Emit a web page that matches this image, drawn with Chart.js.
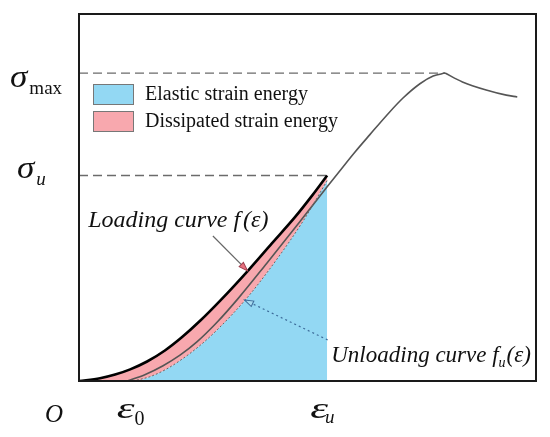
<!DOCTYPE html>
<html><head><meta charset="utf-8">
<script src="https://cdn.jsdelivr.net/npm/chart.js@4.4.0/dist/chart.umd.min.js"></script>
<style>html,body{margin:0;padding:0;background:#fff;} #wrap{width:550px;height:437px;}</style>
</head><body><div id="wrap"><canvas id="c" width="550" height="437"></canvas></div>
<script>
// Loading curve f(eps) (black), from O to (eps_u, sigma_u)
const strainLoad = [0, 4.6, 7.9, 11.2, 14.9, 18.8, 22.5, 26.5, 30.9, 37.0, 42.2, 47.3, 51.0, 54.3];
const stressLoad = [0, 0.74, 1.74, 3.16, 5.31, 8.31, 11.9, 16.4, 21.9, 30.1, 37.5, 44.7, 50.5, 56.0];
// Unloading curve f_u(eps) (dashed), from eps_0 to eps_u
const strainUnload = [11.8, 15.5, 18.8, 22.1, 26.5, 30.2, 36.8, 42.9, 49.0, 54.3];
const stressUnload = [0, 1.17, 3.02, 5.56, 9.7, 13.9, 22.7, 32.5, 43.5, 54.6];
// Complete stress-strain curve (gray): pre-peak and post-peak
const strainPre = [10.5, 14.4, 18.4, 22.1, 25.8, 30.2, 34.8, 41.1, 48.4, 54.3, 57.8, 60.4, 63.7, 67.4, 70.9, 74.6, 77.5, 80.1];
const stressPre = [0, 1.72, 4.17, 7.03, 10.65, 16.0, 22.45, 32.1, 43.5, 52.9, 58.4, 62.4, 67.2, 72.5, 77.1, 81.0, 83.1, 83.9];
const strainPost = [80.1, 83.9, 89.1, 93.5, 95.9];
const stressPost = [83.9, 81.5, 79.3, 77.9, 77.4];
// Characteristic values
const origin = [0, 0];
const eps0 = 10.9;
const epsU = 54.3;
const sigmaU = 56.0;
const sigmaMax = 83.9;
const epsPeak = 80.1;
// Annotation arrows [from, to] in data units
const loadArrow = [[29.3, 39.5], [36.9, 30.0]];
const unloadArrow = [[54.4, 11.2], [36.2, 22.1]];
const loadLabelPos = [2.0, 42.0];
const unloadLabelPos = [55.2, 5.2];
const legendLabels = ['Elastic strain energy', 'Dissipated strain energy'];

const BLUE = '#93d8f3';
const PINK = '#f8a8ae';
const pts = (xs, ys) => xs.map((x, i) => ({x: x, y: ys[i]}));

const serif = '"Liberation Serif", "Times New Roman", serif';

function drawParts(ctx, x, y, parts) {
  let cx = x;
  parts.forEach(p => {
    ctx.font = p.font;
    const sx = p.sx || 1;
    ctx.save();
    ctx.translate(cx, y + (p.dy || 0));
    ctx.scale(sx, 1);
    ctx.fillText(p.t, 0, 0);
    ctx.restore();
    cx += ctx.measureText(p.t).width * sx + (p.gap || 0);
  });
}
function arrowHead(ctx, x0, y0, x1, y1, len, wid, fill, stroke) {
  const a = Math.atan2(y1 - y0, x1 - x0);
  ctx.save();
  ctx.translate(x1, y1); ctx.rotate(a);
  ctx.beginPath();
  ctx.moveTo(0, 0); ctx.lineTo(-len, -wid / 2); ctx.lineTo(-len, wid / 2); ctx.closePath();
  ctx.setLineDash([]);
  ctx.fillStyle = fill; ctx.fill();
  ctx.lineWidth = 1; ctx.strokeStyle = stroke; ctx.stroke();
  ctx.restore();
}

const decor = {
  id: 'decor',
  afterDatasetsDraw(chart) {
    const ctx = chart.ctx, xs = chart.scales.x, ys = chart.scales.y, a = chart.chartArea;
    const X = v => xs.getPixelForValue(v), Y = v => ys.getPixelForValue(v);
    ctx.save();
    // frame
    ctx.strokeStyle = '#1a1a1a'; ctx.lineWidth = 2; ctx.setLineDash([]);
    ctx.strokeRect(a.left, a.top, a.right - a.left, a.bottom - a.top);
    ctx.fillStyle = '#111'; ctx.textBaseline = 'alphabetic'; ctx.textAlign = 'left';
    // y labels
    drawParts(ctx, 10, Y(sigmaMax) + 14, [{t: 'σ', font: 'italic 32px ' + serif, gap: 2, sx: 1.1}, {t: 'max', font: '19px ' + serif, dy: 7}]);
    drawParts(ctx, 17, Y(sigmaU) + 3, [{t: 'σ', font: 'italic 32px ' + serif, gap: 2, sx: 1.1}, {t: 'u', font: 'italic 19px ' + serif, dy: 7}]);
    // x labels
    ctx.font = 'italic 25px ' + serif;
    ctx.fillText('O', X(0) - 34, 422);
    drawParts(ctx, X(eps0) - 12, 418, [{t: 'ε', font: 'italic 30px ' + serif, gap: 0, sx: 1.5}, {t: '0', font: '20px ' + serif, dy: 7}]);
    drawParts(ctx, X(epsU) - 17, 418, [{t: 'ε', font: 'italic 30px ' + serif, gap: -3, sx: 1.5}, {t: 'u', font: 'italic 19px ' + serif, dy: 5}]);
    // curve labels
    drawParts(ctx, X(loadLabelPos[0]), Y(loadLabelPos[1]), [{t: 'Loading curve ', font: 'italic 24px ' + serif}, {t: 'f', font: 'italic 24px ' + serif, gap: 3}, {t: '(ε)', font: 'italic 24px ' + serif}]);
    drawParts(ctx, X(unloadLabelPos[0]), Y(unloadLabelPos[1]), [{t: 'Unloading curve ', font: 'italic 23px ' + serif}, {t: 'f', font: 'italic 23px ' + serif}, {t: 'u', font: 'italic 14px ' + serif, dy: 5, gap: 1}, {t: '(ε)', font: 'italic 23px ' + serif}]);
    // arrows
    let p0 = [X(loadArrow[0][0]), Y(loadArrow[0][1])], p1 = [X(loadArrow[1][0]), Y(loadArrow[1][1])];
    ctx.strokeStyle = '#666'; ctx.lineWidth = 1.2; ctx.setLineDash([]);
    ctx.beginPath(); ctx.moveTo(p0[0], p0[1]); ctx.lineTo(p1[0], p1[1]); ctx.stroke();
    arrowHead(ctx, p0[0], p0[1], p1[0], p1[1], 9, 6, '#e8707e', '#a04050');
    p0 = [X(unloadArrow[0][0]), Y(unloadArrow[0][1])]; p1 = [X(unloadArrow[1][0]), Y(unloadArrow[1][1])];
    ctx.strokeStyle = '#3d6c9a'; ctx.lineWidth = 1.2; ctx.setLineDash([2, 3]);
    ctx.beginPath(); ctx.moveTo(p0[0], p0[1]); ctx.lineTo(p1[0], p1[1]); ctx.stroke();
    arrowHead(ctx, p0[0], p0[1], p1[0], p1[1], 9, 6, '#a8dcf0', '#3d6c9a');
    // legend
    const cols = [BLUE, PINK];
    legendLabels.forEach((lab, i) => {
      const top = 84 + i * 27;
      ctx.setLineDash([]);
      ctx.fillStyle = cols[i]; ctx.fillRect(93, top, 40, 20);
      ctx.strokeStyle = '#777'; ctx.lineWidth = 1; ctx.strokeRect(93.5, top + 0.5, 40, 20);
      ctx.fillStyle = '#111'; ctx.font = '20px ' + serif; ctx.textBaseline = 'middle';
      ctx.fillText(lab, 145, top + 11);
      ctx.textBaseline = 'alphabetic';
    });
    ctx.restore();
  }
};

const common = {pointRadius: 0, showLine: true, cubicInterpolationMode: 'monotone'};
new Chart(document.getElementById('c'), {
  type: 'scatter',
  data: {
    datasets: [
      Object.assign({label: legendLabels[0], data: [{x: origin[0], y: origin[1]}].concat(pts(strainUnload, stressUnload)),
        borderWidth: 0, borderColor: 'rgba(0,0,0,0)', backgroundColor: BLUE, fill: 'origin', order: 10}, common),
      Object.assign({label: legendLabels[1], data: pts(strainLoad, stressLoad),
        borderWidth: 0, borderColor: 'rgba(0,0,0,0)', backgroundColor: PINK, fill: {target: 0, above: PINK, below: PINK}, order: 9}, common),
      Object.assign({label: 'sigma max', data: [{x: 0, y: sigmaMax}, {x: epsPeak, y: sigmaMax}],
        borderColor: '#6b6b6b', borderWidth: 1.3, borderDash: [9, 5], fill: false, order: 8}, common),
      Object.assign({label: 'sigma u', data: [{x: 0, y: sigmaU}, {x: epsU, y: sigmaU}],
        borderColor: '#6b6b6b', borderWidth: 1.3, borderDash: [9, 5], fill: false, order: 8}, common),
      Object.assign({label: 'pre-peak', data: pts(strainPre, stressPre),
        borderColor: '#555', borderWidth: 1.6, fill: false, order: 5}, common),
      Object.assign({label: 'post-peak', data: pts(strainPost, stressPost),
        borderColor: '#555', borderWidth: 1.6, fill: false, order: 5}, common),
      Object.assign({label: 'unloading', data: pts(strainUnload, stressUnload),
        borderColor: '#666', borderWidth: 1, borderDash: [2, 2], fill: false, order: 4}, common),
      Object.assign({label: 'loading', data: pts(strainLoad, stressLoad),
        borderColor: '#000', borderWidth: 2.6, fill: false, order: 1}, common)
    ]
  },
  options: {
    responsive: false, animation: false,
    layout: {padding: {left: 79, right: 14, top: 14, bottom: 56}},
    scales: {
      x: {type: 'linear', min: 0, max: 100, display: false},
      y: {type: 'linear', min: 0, max: 100, display: false}
    },
    plugins: {legend: {display: false}, tooltip: {enabled: false}}
  },
  plugins: [decor]
});
</script></body></html>
